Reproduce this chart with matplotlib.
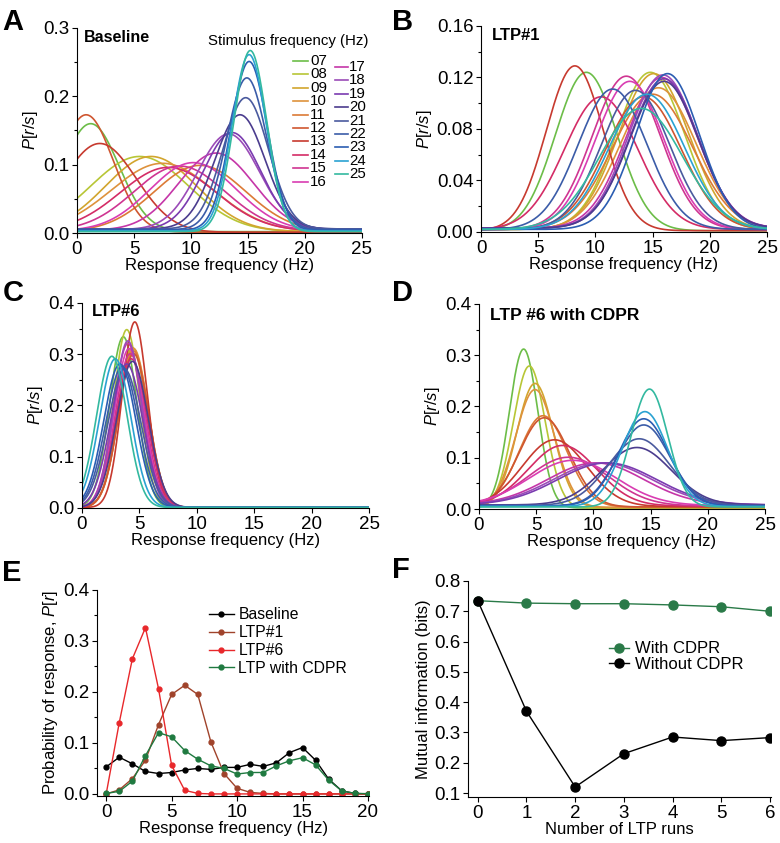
import numpy as np
import matplotlib
matplotlib.use("Agg")
import matplotlib.pyplot as plt
from matplotlib.ticker import MultipleLocator, FormatStrFormatter

plt.rcParams['font.family'] = ['Liberation Sans', 'DejaVu Sans']
plt.rcParams['mathtext.fontset'] = 'custom'
plt.rcParams['mathtext.rm'] = 'Liberation Sans'
plt.rcParams['mathtext.it'] = 'Liberation Sans:italic'
plt.rcParams['mathtext.bf'] = 'Liberation Sans:bold'
plt.rcParams['axes.linewidth'] = 0.8
plt.rcParams['xtick.major.width'] = 0.8
plt.rcParams['ytick.major.width'] = 0.8
plt.rcParams['ytick.minor.width'] = 0.8
plt.rcParams['xtick.major.size'] = 3.5
plt.rcParams['ytick.major.size'] = 3.5
plt.rcParams['ytick.minor.size'] = 2
plt.rcParams['xtick.major.pad'] = 2
plt.rcParams['ytick.major.pad'] = 2

TICK_FS = 13.5
LABEL_FS = 12

## data: stimulus frequencies and colours ##

stimulus = ['07', '08', '09', '10', '11', '12', '13', '14', '15', '16',
            '17', '18', '19', '20', '21', '22', '23', '24', '25']
stim_colors = ['#6cbd48', '#b8c636', '#d2a52e', '#de923c', '#dc7a36', '#cf5630',
               '#c73a2f', '#d42c66', '#cf3591', '#d93db2', '#c536a8', '#9b4bb8',
               '#7a3bb0', '#4b3c8e', '#4a5a9e', '#3b5ca8', '#2b5db2', '#2aa2d2', '#33b9a0']

# tuning curves: peak height, peak position (Hz), width (Hz), floor
base_peak = [0.158, 0.110, 0.110, 0.100, 0.097, 0.172, 0.130, 0.093, 0.095, 0.100,
             0.113, 0.140, 0.142, 0.167, 0.192, 0.222, 0.247, 0.258, 0.265]
base_mean = [1.2, 5.5, 6.5, 7.5, 10.8, 0.8, 2.0, 8.0, 9.0, 10.2,
             12.2, 13.3, 13.6, 14.3, 14.8, 14.9, 15.1, 15.1, 15.2]
base_sd = [2.5, 4.3, 4.0, 4.5, 4.0, 2.4, 3.2, 4.2, 4.0, 3.8,
           3.3, 2.7, 2.5, 2.2, 2.0, 1.75, 1.6, 1.5, 1.45]
base_floor = [0.002, 0.002, 0.002, 0.002, 0.002, 0.001, 0.001, 0.003, 0.003, 0.003,
              0.004, 0.005, 0.005, 0.006, 0.006, 0.005, 0.004, 0.003, 0.002]

ltp1_peak = [0.123, 0.122, 0.121, 0.110, 0.105, 0.103, 0.128, 0.103, 0.119, 0.115,
             0.117, 0.119, 0.116, 0.114, 0.108, 0.109, 0.121, 0.105, 0.094]
ltp1_mean = [9.2, 14.8, 15.1, 15.5, 15.0, 14.2, 8.2, 10.5, 12.7, 13.0,
             15.8, 15.9, 16.0, 16.0, 13.5, 11.5, 16.3, 14.5, 14.0]
ltp1_sd = [2.7, 3.0, 3.1, 3.3, 3.5, 3.3, 2.5, 3.2, 3.0, 3.0,
           3.1, 3.0, 3.0, 3.0, 3.0, 3.0, 2.8, 3.3, 3.6]
ltp1_floor = [0.001, 0.002, 0.002, 0.002, 0.002, 0.002, 0.001, 0.002, 0.002, 0.002,
              0.003, 0.003, 0.003, 0.003, 0.002, 0.002, 0.002, 0.002, 0.002]

ltp6_peak = [0.333, 0.347, 0.312, 0.310, 0.305, 0.300, 0.362, 0.290, 0.300, 0.310,
             0.320, 0.325, 0.280, 0.285, 0.270, 0.275, 0.280, 0.290, 0.295]
ltp6_mean = [3.6, 3.9, 4.4, 4.5, 4.5, 4.5, 4.6, 4.3, 4.2, 4.1,
             4.0, 4.0, 3.9, 4.4, 3.7, 3.5, 3.3, 2.9, 2.6]
ltp6_sd = [1.2, 1.15, 1.25, 1.28, 1.3, 1.3, 1.1, 1.35, 1.3, 1.28,
           1.25, 1.22, 1.4, 1.38, 1.45, 1.42, 1.4, 1.36, 1.33]
ltp6_floor = [0.001] * 19

cdpr_peak = [0.310, 0.277, 0.242, 0.230, 0.178, 0.174, 0.130, 0.118, 0.095, 0.088,
             0.082, 0.082, 0.082, 0.112, 0.130, 0.158, 0.170, 0.185, 0.230]
cdpr_mean = [3.9, 4.4, 4.9, 4.9, 5.6, 5.7, 6.6, 7.3, 7.8, 8.2,
             10.2, 10.8, 11.2, 13.8, 14.0, 14.4, 14.4, 14.5, 14.9]
cdpr_sd = [1.25, 1.4, 1.6, 1.7, 2.1, 2.2, 2.8, 3.0, 3.5, 3.8,
           4.2, 4.3, 4.3, 3.0, 2.7, 2.3, 2.2, 2.0, 1.6]
cdpr_floor = [0.002, 0.002, 0.003, 0.003, 0.004, 0.004, 0.005, 0.006, 0.006, 0.007,
              0.008, 0.008, 0.008, 0.008, 0.007, 0.006, 0.006, 0.005, 0.004]

# panel E: probability of response at each integer response frequency
resp_hz = list(range(21))
p_baseline = [0.053, 0.072, 0.059, 0.044, 0.040, 0.042, 0.047, 0.050, 0.048, 0.052, 0.052,
              0.058, 0.054, 0.061, 0.081, 0.091, 0.066, 0.029, 0.006, 0.001, 0.0]
p_ltp1 = [0.0, 0.008, 0.030, 0.066, 0.136, 0.195, 0.213, 0.195, 0.102, 0.040, 0.011,
          0.003, 0.001, 0.0, 0.0, 0.0, 0.0, 0.0, 0.0, 0.0, 0.0]
p_ltp6 = [0.0, 0.140, 0.265, 0.326, 0.206, 0.056, 0.007, 0.001, 0.0, 0.0, 0.0,
          0.0, 0.0, 0.0, 0.0, 0.0, 0.0, 0.0, 0.0, 0.0, 0.0]
p_cdpr = [0.001, 0.005, 0.025, 0.075, 0.120, 0.112, 0.085, 0.068, 0.055, 0.050, 0.039,
          0.042, 0.042, 0.055, 0.065, 0.071, 0.057, 0.027, 0.006, 0.001, 0.0005]

# panel F: mutual information vs number of LTP runs
ltp_runs = [0, 1, 2, 3, 4, 5, 6]
mi_with = [0.735, 0.727, 0.725, 0.725, 0.721, 0.715, 0.700]
mi_without = [0.735, 0.370, 0.120, 0.230, 0.285, 0.273, 0.283]

## drawing ##

fig = plt.figure(figsize=(7.8, 8.43), dpi=100)
r = np.linspace(0, 25, 600)


def clean_axes(ax):
    ax.tick_params(labelsize=TICK_FS)
    for s in ['top', 'right']:
        ax.spines[s].set_visible(False)


def tuning_panel(rect, peaks, means, sds, floors, ymax, ystep, fmt, title, title_x, title_y, title_fs=12):
    ax = fig.add_axes(rect)
    for pk, mu, sd, fl, c in zip(peaks, means, sds, floors, stim_colors):
        ax.plot(r, fl + pk * np.exp(-(r - mu) ** 2 / (2 * sd ** 2)), color=c, lw=1.2)
    ax.set_xlim(0, 25)
    ax.set_ylim(0, ymax)
    ax.xaxis.set_major_locator(MultipleLocator(5))
    ax.yaxis.set_major_locator(MultipleLocator(ystep))
    ax.yaxis.set_minor_locator(MultipleLocator(ystep / 2))
    ax.yaxis.set_major_formatter(FormatStrFormatter(fmt))
    clean_axes(ax)
    ax.set_xlabel('Response frequency (Hz)', fontsize=LABEL_FS, labelpad=0)
    ax.set_ylabel('$P$[$r$/$s$]', fontsize=LABEL_FS, labelpad=2)
    ax.text(title_x, title_y, title, transform=ax.transAxes, fontsize=title_fs,
            fontweight='bold', va='center', ha='left')
    return ax


axA = tuning_panel([0.0987, 0.7236, 0.3654, 0.2432], base_peak, base_mean, base_sd,
                   base_floor, 0.3, 0.1, '%.1f', 'Baseline', 0.025, 0.956, 11.5)
tuning_panel([0.6167, 0.7248, 0.3667, 0.2444], ltp1_peak, ltp1_mean, ltp1_sd,
             ltp1_floor, 0.16, 0.04, '%.2f', 'LTP#1', 0.038, 0.956)
tuning_panel([0.1051, 0.3974, 0.3680, 0.2432], ltp6_peak, ltp6_mean, ltp6_sd,
             ltp6_floor, 0.4, 0.1, '%.1f', 'LTP#6', 0.035, 0.956)
tuning_panel([0.6141, 0.3962, 0.3667, 0.2432], cdpr_peak, cdpr_mean, cdpr_sd,
             cdpr_floor, 0.4, 0.1, '%.1f', 'LTP #6 with CDPR', 0.038, 0.946, 12.5)

# stimulus legend in panel A, two columns drawn by hand
axA.text(0.74, 0.937, 'Stimulus frequency (Hz)', transform=axA.transAxes,
         fontsize=10.8, ha='center', va='center')
for i, (lab, c) in enumerate(zip(stimulus, stim_colors)):
    if i < 10:
        x0, x1, xt, y = 0.758, 0.811, 0.818, 0.839 - i * 0.0654
    else:
        x0, x1, xt, y = 0.905, 0.951, 0.955, 0.810 - (i - 10) * 0.0654
    axA.plot([x0, x1], [y, y], color=c, lw=1.2, transform=axA.transAxes, clip_on=False)
    axA.text(xt, y, lab, transform=axA.transAxes, fontsize=10.8, va='center', ha='left')

# panel E
axE = fig.add_axes([0.1244, 0.0558, 0.349, 0.2444])
axE.plot(resp_hz, p_baseline, '-o', color='black', ms=3.5, lw=1.0, label='Baseline')
axE.plot(resp_hz, p_ltp1, '-o', color='#a0432b', ms=3.5, lw=1.0, label='LTP#1')
axE.plot(resp_hz, p_ltp6, '-o', color='#e8282b', ms=3.5, lw=1.0, label='LTP#6')
axE.plot(resp_hz, p_cdpr, '-o', color='#1f7a40', ms=3.5, lw=1.0, label='LTP with CDPR')
axE.set_xlim(-0.7, 20.1)
axE.set_ylim(-0.004, 0.4)
axE.xaxis.set_major_locator(MultipleLocator(5))
axE.yaxis.set_major_locator(MultipleLocator(0.1))
axE.yaxis.set_minor_locator(MultipleLocator(0.05))
axE.yaxis.set_major_formatter(FormatStrFormatter('%.1f'))
clean_axes(axE)
axE.set_xlabel('Response frequency (Hz)', fontsize=LABEL_FS, labelpad=0)
axE.set_ylabel('Probability of response, $P$[$r$]', fontsize=LABEL_FS, labelpad=2)
axE.legend(frameon=False, loc='upper left', bbox_to_anchor=(0.41, 0.915), fontsize=11.3,
           handlelength=1.6, handletextpad=0.3, labelspacing=0.18, borderpad=0, borderaxespad=0)

# panel F
axF = fig.add_axes([0.6, 0.0546, 0.3885, 0.2562])
axF.plot(ltp_runs, mi_with, '-o', color='#2a7a48', ms=6.5, lw=1.0, label='With CDPR')
axF.plot(ltp_runs, mi_without, '-o', color='black', ms=6.5, lw=1.0, label='Without CDPR')
axF.set_xlim(-0.2, 6.02)
axF.set_ylim(0.087, 0.8)
axF.xaxis.set_major_locator(MultipleLocator(1))
axF.yaxis.set_major_locator(MultipleLocator(0.1))
axF.yaxis.set_major_formatter(FormatStrFormatter('%.1f'))
clean_axes(axF)
axF.set_xlabel('Number of LTP runs', fontsize=LABEL_FS, labelpad=0)
axF.set_ylabel('Mutual information (bits)', fontsize=LABEL_FS, labelpad=2)
axF.legend(frameon=False, loc='upper left', bbox_to_anchor=(0.465, 0.72), fontsize=12,
           handlelength=1.2, handletextpad=0.35, labelspacing=0.02, borderpad=0, borderaxespad=0)

# panel letters
for lab, x, y in [('A', 0.003, 0.991), ('B', 0.503, 0.991), ('C', 0.003, 0.669),
                  ('D', 0.503, 0.669), ('E', 0.003, 0.337), ('F', 0.503, 0.341)]:
    fig.text(x, y, lab, fontsize=21, fontweight='bold', va='top', ha='left')

fig.savefig('out.png', dpi=100)
